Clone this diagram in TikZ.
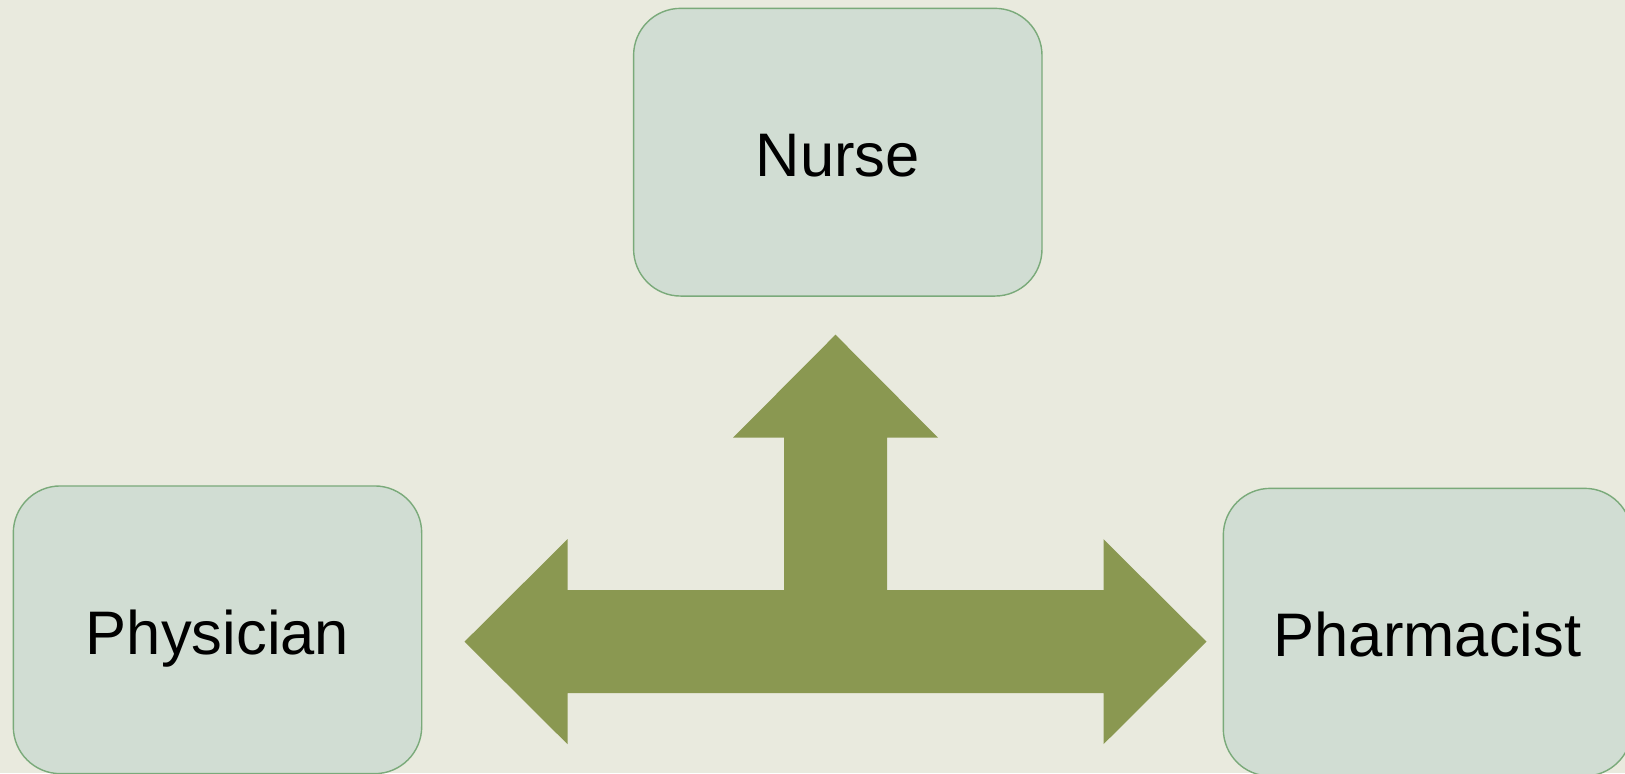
\documentclass[tikz,border=0pt]{standalone}
\usepackage{fontspec}
\setmainfont{Liberation Sans}
\usepackage{xcolor}
\usetikzlibrary{positioning}

\definecolor{pagebg}{RGB}{233,234,222}
\definecolor{boxfill}{RGB}{209,221,211}
\definecolor{boxline}{RGB}{122,170,122}
\definecolor{arrowfill}{RGB}{138,152,81}

\tikzset{
  role/.style={draw=boxline, line width=0.4pt, fill=boxfill, rounded corners=0.47cm,
    minimum width=4.084cm, minimum height=2.877cm, inner sep=0pt,
    text height=0.49cm, text depth=0pt,
    font=\fontsize{17.5}{20}\selectfont}
}

\begin{document}
\begin{tikzpicture}[node distance=2cm, on grid]
  % page
  \useasboundingbox (0,0) rectangle (16.25,7.73);
  \clip (0,0) rectangle (16.25,7.73);
  \fill[pagebg] (0,0) rectangle (16.25,7.73);

  % the three roles
  \node[role] (nurse) at (8.378,6.208) {Nurse};
  \node[role] (physician) [below left=4.776cm and 6.203cm of nurse] {Physician};
  \node[role] (pharmacist) [below right=4.8cm and 5.897cm of nurse] {Pharmacist};

  % three-way block arrow
  \coordinate (hub) at (8.355,1.313);
  \fill[arrowfill, shift={(hub)}]
    (0,3.07) -- (1.025,2.04) -- (0.515,2.04) -- (0.515,0.515)
    -- (2.68,0.515) -- (2.68,1.025) -- (3.71,0) -- (2.68,-1.025) -- (2.68,-0.515)
    -- (-2.68,-0.515) -- (-2.68,-1.025) -- (-3.71,0) -- (-2.68,1.025) -- (-2.68,0.515)
    -- (-0.515,0.515) -- (-0.515,2.04) -- (-1.025,2.04) -- cycle;
\end{tikzpicture}
\end{document}
